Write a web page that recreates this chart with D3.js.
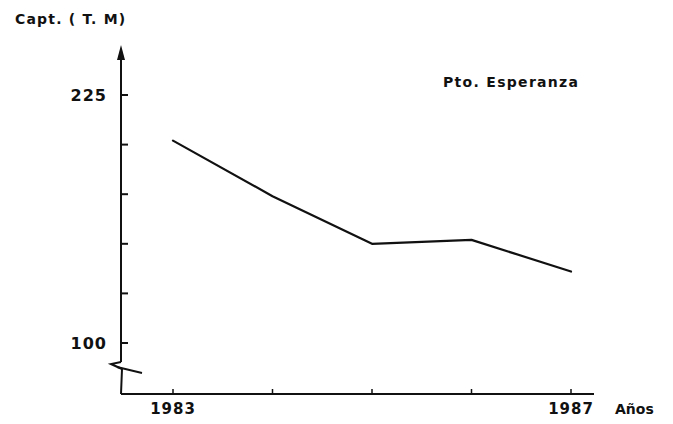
<!DOCTYPE html>
<html>
<head>
<meta charset="utf-8">
<script src="https://cdn.jsdelivr.net/npm/d3@7"></script>
<style>
  body { margin: 0; background: #fff; }
  text { font-family: "DejaVu Sans", sans-serif; font-weight: bold; fill: #111; }
</style>
</head>
<body>
<svg id="chart" width="673" height="424"></svg>
<script>
// captura anual, Pto. Esperanza
const years = [1983, 1984, 1985, 1986, 1987];
const capture = [202, 174, 150, 152, 136];
const yTicks = [100, 125, 150, 175, 200, 225];
const yTickLabels = { 100: '100', 225: '225' };
const xTickLabels = { 1983: '1983', 1987: '1987' };

const svg = d3.select('#chart');
const ink = '#111';

const x = d3.scaleLinear().domain([1983, 1987]).range([173, 571]);
const y = d3.scaleLinear().domain([100, 225]).range([343, 95]);

const axisX = 121;
const baseY = 394;

// y axis line with arrow
svg.append('path')
  .attr('d', `M${axisX},52 L${axisX},362`)
  .attr('stroke', ink).attr('stroke-width', 2).attr('fill', 'none');
svg.append('path')
  .attr('d', `M${axisX},45 L${axisX - 4},60 L${axisX + 4},60 Z`)
  .attr('fill', ink);

// axis break
svg.append('path')
  .attr('d', `M${axisX},362 L${axisX - 10},364 L${axisX + 1},369 L${axisX},${baseY}`)
  .attr('stroke', ink).attr('stroke-width', 2).attr('fill', 'none');
svg.append('path')
  .attr('d', `M${axisX - 4},367 L${axisX + 21},373`)
  .attr('stroke', ink).attr('stroke-width', 1.8).attr('fill', 'none');

// x axis line
svg.append('path')
  .attr('d', `M${axisX},${baseY} L594,${baseY}`)
  .attr('stroke', ink).attr('stroke-width', 2).attr('fill', 'none');

// y ticks
svg.append('g').selectAll('line')
  .data(yTicks)
  .join('line')
  .attr('x1', axisX).attr('x2', axisX + 7)
  .attr('y1', d => y(d)).attr('y2', d => y(d))
  .attr('stroke', ink).attr('stroke-width', 2);

svg.append('g').selectAll('text')
  .data(yTicks.filter(d => yTickLabels[d]))
  .join('text')
  .attr('x', axisX - 14).attr('y', d => y(d) + 6)
  .attr('text-anchor', 'end')
  .attr('font-size', 16)
  .attr('letter-spacing', 1)
  .text(d => yTickLabels[d]);

// x ticks
svg.append('g').selectAll('line')
  .data(years)
  .join('line')
  .attr('x1', d => x(d)).attr('x2', d => x(d))
  .attr('y1', baseY).attr('y2', baseY - 5)
  .attr('stroke', ink).attr('stroke-width', 1.5);

svg.append('g').selectAll('text')
  .data(years.filter(d => xTickLabels[d]))
  .join('text')
  .attr('x', d => x(d)).attr('y', 414)
  .attr('text-anchor', 'middle')
  .attr('font-size', 15)
  .attr('letter-spacing', 1)
  .text(d => xTickLabels[d]);

// data line
const line = d3.line()
  .x((d, i) => x(years[i]))
  .y(d => y(d));

svg.append('path')
  .attr('d', line(capture))
  .attr('fill', 'none')
  .attr('stroke', ink)
  .attr('stroke-width', 2.2)
  .attr('stroke-linejoin', 'round')
  .attr('stroke-linecap', 'round');

// labels
svg.append('text').attr('x', 15).attr('y', 24).attr('font-size', 14)
  .attr('letter-spacing', 1.2).text('Capt. ( T. M)');
svg.append('text').attr('x', 615).attr('y', 414).attr('font-size', 14)
  .text('Años');
svg.append('text').attr('x', 443).attr('y', 87).attr('font-size', 14)
  .attr('letter-spacing', 1.3).text('Pto. Esperanza');
</script>
</body>
</html>
